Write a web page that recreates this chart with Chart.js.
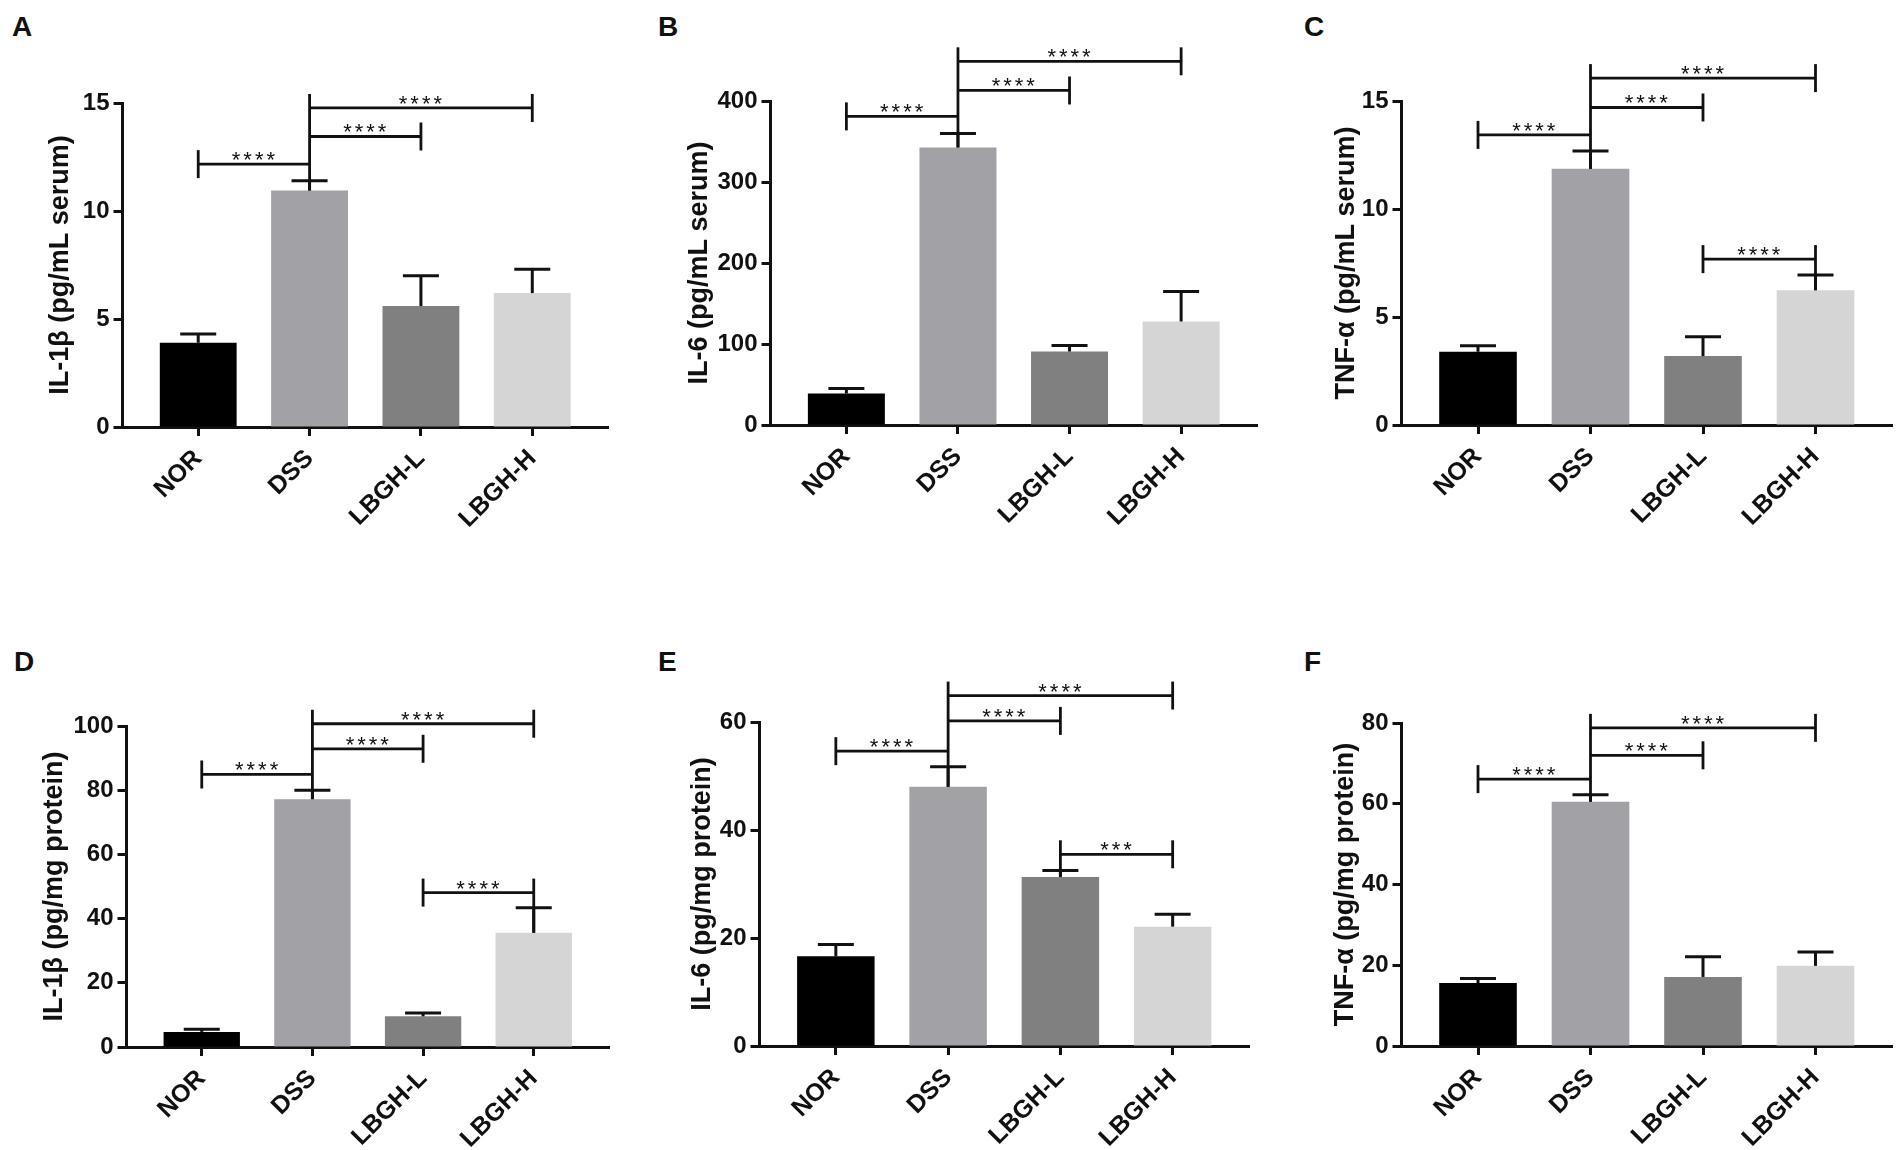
<!DOCTYPE html>
<html lang="en">
<head>
    <meta charset="UTF-8">
    <title>Cytokine levels</title>
    <script src="https://cdn.jsdelivr.net/npm/chart.js"></script>
    <style>
        body {
            margin: 0;
            width: 1904px;
            height: 1150px;
            background: #fff;
            position: relative;
            overflow: hidden;
            font-family: Arial, "Liberation Sans", sans-serif;
        }
        .letter {
            position: absolute;
            font-size: 28px;
            font-weight: bold;
            line-height: 1;
            color: #111;
        }
        canvas {
            position: absolute;
        }
    </style>
</head>
<body>
    <script>
        const groups = ['NOR', 'DSS', 'LBGH-L', 'LBGH-H'];
        const barColors = ['#000000', '#a1a1a6', '#808080', '#d5d5d5'];

        // A - IL-1b serum
        const il1bSerum = [3.9, 10.95, 5.6, 6.2];
        const il1bSerumErr = [0.4, 0.45, 1.4, 1.1];
        const il1bSerumSig = [[0, 1, 12.17, '****', 1], [1, 2, 13.45, '****', 1], [1, 3, 14.77, '****', 1]];

        // B - IL-6 serum
        const il6Serum = [38.8, 342.7, 90.7, 127.8];
        const il6SerumErr = [6.2, 17.3, 7.5, 37];
        const il6SerumSig = [[0, 1, 381, '****', 1], [1, 2, 413, '****', 1], [1, 3, 449, '****', 1]];

        // C - TNF-a serum
        const tnfSerum = [3.39, 11.86, 3.19, 6.24];
        const tnfSerumErr = [0.28, 0.83, 0.89, 0.7];
        const tnfSerumSig = [[0, 1, 13.43, '****', 1], [1, 2, 14.7, '****', 1], [1, 3, 16.06, '****', 1], [2, 3, 7.68, '****', 3]];

        // D - IL-1b tissue
        const il1bTissue = [4.7, 77.2, 9.55, 35.6];
        const il1bTissueErr = [0.8, 2.8, 1.05, 7.8];
        const il1bTissueSig = [[0, 1, 84.9, '****', 1], [1, 2, 92.9, '****', 1], [1, 3, 100.7, '****', 1], [2, 3, 48.1, '****', 3]];

        // E - IL-6 tissue
        const il6Tissue = [16.6, 48.0, 31.3, 22.1];
        const il6TissueErr = [2.2, 3.7, 1.2, 2.3];
        const il6TissueSig = [[0, 1, 54.6, '****', 1], [1, 2, 60.2, '****', 1], [1, 3, 64.9, '****', 1], [2, 3, 35.5, '***', 2]];

        // F - TNF-a tissue
        const tnfTissue = [15.6, 60.5, 17.1, 19.85];
        const tnfTissueErr = [1.1, 1.7, 5.0, 3.45];
        const tnfTissueSig = [[0, 1, 66.1, '****', 1], [1, 2, 72.0, '****', 1], [1, 3, 78.8, '****', 1]];

        const panels = [
            { letter: 'A', title: 'IL-1β (pg/mL serum)', values: il1bSerum, errors: il1bSerumErr, sig: il1bSerumSig, max: 15, step: 5 },
            { letter: 'B', title: 'IL-6 (pg/mL serum)', values: il6Serum, errors: il6SerumErr, sig: il6SerumSig, max: 400, step: 100 },
            { letter: 'C', title: 'TNF-α (pg/mL serum)', values: tnfSerum, errors: tnfSerumErr, sig: tnfSerumSig, max: 15, step: 5 },
            { letter: 'D', title: 'IL-1β (pg/mg protein)', values: il1bTissue, errors: il1bTissueErr, sig: il1bTissueSig, max: 100, step: 20 },
            { letter: 'E', title: 'IL-6 (pg/mg protein)', values: il6Tissue, errors: il6TissueErr, sig: il6TissueSig, max: 60, step: 20 },
            { letter: 'F', title: 'TNF-α (pg/mg protein)', values: tnfTissue, errors: tnfTissueErr, sig: tnfTissueSig, max: 80, step: 20 }
        ];

        // where each panel sits on the page
        const boxes = [
            { lx: 12, ly: 13, titleC: 60, axisX: 122, axisEnd: 608, top: 103, bottom: 427, canvasTop: 0 },
            { lx: 658, ly: 13, titleC: 699, axisX: 770, axisEnd: 1257, top: 101, bottom: 425, canvasTop: 0 },
            { lx: 1304, ly: 13, titleC: 1346, axisX: 1401, axisEnd: 1892, top: 101, bottom: 425, canvasTop: 0 },
            { lx: 14, ly: 648, titleC: 54, axisX: 126, axisEnd: 609, top: 726, bottom: 1047, canvasTop: 560 },
            { lx: 658, ly: 648, titleC: 702, axisX: 759, axisEnd: 1249, top: 722, bottom: 1046, canvasTop: 560 },
            { lx: 1304, ly: 648, titleC: 1345, axisX: 1401, axisEnd: 1892, top: 723, bottom: 1046, canvasTop: 560 }
        ];

        const SIDE = 0.68;       // empty room left/right of the outer bars, in category units
        const TITLE_SIZE = 27;
        const X_AXIS_H = 100;
        const INK = '#111';
        const FONT = 'Arial, "Liberation Sans", sans-serif';

        const sigPlugin = {
            id: 'sig',
            afterDatasetsDraw(chart, args, opts) {
                const ctx = chart.ctx;
                const x = chart.scales.x, y = chart.scales.y;
                const p = opts.panel;
                const line = (x0, y0, x1, y1) => {
                    ctx.beginPath();
                    ctx.moveTo(x0, y0);
                    ctx.lineTo(x1, y1);
                    ctx.stroke();
                };
                ctx.save();
                ctx.strokeStyle = INK;
                ctx.lineWidth = 3;

                // error bars (mean + SD, upper only)
                p.values.forEach((v, i) => {
                    const px = x.getPixelForValue(i);
                    const y0 = y.getPixelForValue(v);
                    const y1 = y.getPixelForValue(v + p.errors[i]);
                    line(px, y0, px, y1);
                    line(px - 18, y1, px + 18, y1);
                });

                // significance brackets
                const half = 14;
                const hubTop = {};
                ctx.lineWidth = 2.8;
                p.sig.forEach(([a, b, level, label, hub]) => {
                    const ly = y.getPixelForValue(level);
                    const xa = x.getPixelForValue(a);
                    const xb = x.getPixelForValue(b);
                    line(xa, ly, xb, ly);
                    [a, b].forEach(g => {
                        const gx = x.getPixelForValue(g);
                        if (g === hub) {
                            hubTop[g] = Math.min(hubTop[g] === undefined ? Infinity : hubTop[g], ly - half);
                        } else {
                            line(gx, ly - half, gx, ly + half);
                        }
                    });
                    ctx.fillStyle = INK;
                    ctx.font = '22px ' + FONT;
                    ctx.letterSpacing = '3px';
                    ctx.textAlign = 'center';
                    ctx.textBaseline = 'alphabetic';
                    ctx.fillText(label, (xa + xb) / 2 + 1, ly + 3);
                });
                Object.keys(hubTop).forEach(g => {
                    const gx = x.getPixelForValue(Number(g));
                    line(gx, hubTop[g], gx, y.getPixelForValue(p.values[g]));
                });
                ctx.restore();
            }
        };

        panels.forEach((p, k) => {
            const b = boxes[k];

            const letter = document.createElement('div');
            letter.className = 'letter';
            letter.textContent = p.letter;
            letter.style.left = b.lx + 'px';
            letter.style.top = b.ly + 'px';
            document.body.appendChild(letter);

            const left = b.titleC - TITLE_SIZE / 2;
            const width = b.axisEnd + 6 - left;
            const height = b.bottom + X_AXIS_H - b.canvasTop;
            const canvas = document.createElement('canvas');
            canvas.width = width;
            canvas.height = height;
            canvas.style.left = left + 'px';
            canvas.style.top = b.canvasTop + 'px';
            document.body.appendChild(canvas);

            new Chart(canvas.getContext('2d'), {
                type: 'bar',
                data: {
                    datasets: [{
                        data: p.values.map((v, i) => ({ x: i, y: v })),
                        backgroundColor: barColors,
                        borderWidth: 0,
                        categoryPercentage: 1,
                        barPercentage: 0.69
                    }]
                },
                options: {
                    responsive: false,
                    animation: false,
                    devicePixelRatio: 1,
                    layout: {
                        padding: { top: b.top - b.canvasTop, right: 6, bottom: 0, left: 0 }
                    },
                    plugins: {
                        legend: { display: false },
                        tooltip: { enabled: false },
                        sig: { panel: p }
                    },
                    scales: {
                        x: {
                            type: 'linear',
                            offset: false,
                            min: -SIDE,
                            max: groups.length - 1 + SIDE,
                            afterBuildTicks: scale => {
                                scale.ticks = groups.map((g, i) => ({ value: i }));
                            },
                            afterFit: scale => { scale.height = X_AXIS_H; },
                            ticks: {
                                autoSkip: false,
                                maxRotation: 45,
                                minRotation: 45,
                                padding: 8,
                                color: INK,
                                font: { family: FONT, size: 25, weight: 'bold' },
                                callback: v => groups[v]
                            },
                            grid: {
                                offset: false,
                                drawOnChartArea: false,
                                drawTicks: true,
                                tickLength: 9,
                                tickWidth: 3,
                                tickColor: INK
                            },
                            border: { display: true, color: INK, width: 3 }
                        },
                        y: {
                            min: 0,
                            max: p.max,
                            afterFit: scale => { scale.width = b.axisX - left; },
                            ticks: {
                                stepSize: p.step,
                                padding: 4,
                                color: INK,
                                font: { family: FONT, size: 24, weight: 'bold' }
                            },
                            grid: {
                                drawOnChartArea: false,
                                drawTicks: true,
                                tickLength: 9,
                                tickWidth: 3,
                                tickColor: INK
                            },
                            border: { display: true, color: INK, width: 3 },
                            title: {
                                display: true,
                                text: p.title,
                                color: INK,
                                padding: { top: 0, bottom: 0 },
                                font: { family: FONT, size: TITLE_SIZE, weight: 'bold', lineHeight: 1 }
                            }
                        }
                    }
                },
                plugins: [sigPlugin]
            });
        });
    </script>
</body>
</html>
